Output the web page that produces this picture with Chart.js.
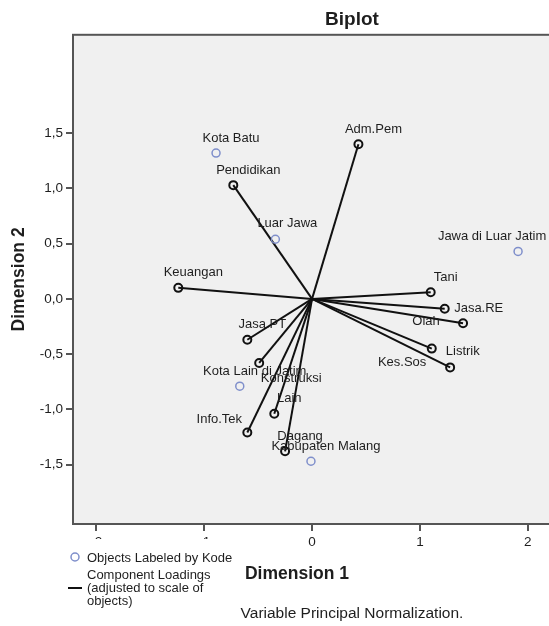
<!DOCTYPE html>
<html>
<head>
<meta charset="utf-8">
<script src="https://cdn.jsdelivr.net/npm/chart.js@4/dist/chart.umd.min.js"></script>
<style>
  html, body { margin: 0; padding: 0; overflow: hidden; background: #fff; }
  canvas { display: block; }
</style>
</head>
<body>
<canvas id="biplot" width="704" height="626"></canvas>
<script>
// objects (cases), labeled by Kode
const objectLabels = ['Kota Batu', 'Luar Jawa', 'Jawa di Luar Jatim', 'Kota Lain di Jatim', 'Kabupaten Malang']
const objectDim1 = [-0.89, -0.34, 1.91, -0.67, -0.01]
const objectDim2 = [1.32, 0.54, 0.43, -0.79, -1.47]

// component loadings (adjusted to scale of objects)
const variableLabels = ['Adm.Pem', 'Pendidikan', 'Keuangan', 'Tani', 'Jasa.RE', 'Olah', 'Listrik',
  'Kes.Sos', 'Jasa.PT', 'Konstruksi', 'Lain', 'Info.Tek', 'Dagang']
const loadingDim1 = [0.43, -0.73, -1.24, 1.10, 1.23, 1.40, 1.11, 1.28, -0.60, -0.49, -0.35, -0.60, -0.25]
const loadingDim2 = [1.40, 1.03, 0.10, 0.06, -0.09, -0.22, -0.45, -0.62, -0.37, -0.58, -1.04, -1.21, -1.38]

const dim1Ticks = [-2, -1, 0, 1, 2]
const dim2Ticks = [-1.5, -1, -0.5, 0, 0.5, 1, 1.5]

const FONT = "'Liberation Sans', Arial, sans-serif"
const TEXT = '#1e1e1e'
const OBJ_BLUE = '#7f8fcb'

// where each label sits relative to its marker (text centre), default is up-right
const labelShift = {
  'Jawa di Luar Jatim': [-26, -15],
  'Luar Jawa': [12, -16],
  'Jasa.RE': [34, 0],
  'Olah': [-37, -2],
  'Listrik': [31, 3],
  'Kes.Sos': [-48, -5],
  'Konstruksi': [32, 15],
  'Info.Tek': [-28, -13]
}

const datasets = [{
  label: 'Objects Labeled by Kode',
  data: objectLabels.map((name, i) => ({ x: objectDim1[i], y: objectDim2[i] })),
  pointRadius: 4,
  pointBorderWidth: 1.5,
  pointBorderColor: OBJ_BLUE,
  pointBackgroundColor: 'rgba(0,0,0,0)',
  showLine: false
}]
variableLabels.forEach((name, i) => {
  datasets.push({
    label: name,
    data: [{ x: 0, y: 0 }, { x: loadingDim1[i], y: loadingDim2[i] }],
    showLine: true,
    borderColor: '#111',
    borderWidth: 2,
    pointRadius: [0, 4],
    pointBorderWidth: 2,
    pointBorderColor: '#111',
    pointBackgroundColor: 'rgba(0,0,0,0)'
  })
})

const biplotDecor = {
  id: 'biplotDecor',
  beforeDraw(chart) {
    const { ctx, chartArea: a } = chart
    ctx.save()
    ctx.fillStyle = '#f0f0f0'
    ctx.fillRect(a.left, a.top, a.right - a.left, a.bottom - a.top)
    ctx.restore()
  },
  afterDatasetsDraw(chart) {
    const ctx = chart.ctx
    ctx.save()
    ctx.font = '13px ' + FONT
    ctx.fillStyle = TEXT
    ctx.textAlign = 'center'
    ctx.textBaseline = 'middle'
    const put = (name, el) => {
      const s = labelShift[name] || [15, -15]
      ctx.fillText(name, el.x + s[0], el.y + s[1])
    }
    chart.getDatasetMeta(0).data.forEach((el, i) => put(objectLabels[i], el))
    variableLabels.forEach((name, i) => put(name, chart.getDatasetMeta(i + 1).data[1]))
    ctx.restore()
  },
  afterDraw(chart) {
    const { ctx, chartArea: a } = chart
    ctx.save()
    ctx.strokeStyle = '#555'
    ctx.lineWidth = 2
    ctx.strokeRect(a.left, a.top, a.right - a.left, a.bottom - a.top)

    // x axis title
    ctx.fillStyle = TEXT
    ctx.font = 'bold 17.5px ' + FONT
    ctx.textAlign = 'center'
    ctx.textBaseline = 'middle'
    ctx.fillText('Dimension 1', 297, 574)

    // legend box (sits over the left tick labels)
    ctx.fillStyle = '#fff'
    ctx.fillRect(60, 539, 180, 66)
    ctx.strokeStyle = OBJ_BLUE
    ctx.lineWidth = 1.5
    ctx.beginPath()
    ctx.arc(75, 557, 4, 0, Math.PI * 2)
    ctx.stroke()
    ctx.strokeStyle = '#111'
    ctx.lineWidth = 2
    ctx.beginPath()
    ctx.moveTo(68, 588)
    ctx.lineTo(82, 588)
    ctx.stroke()
    ctx.fillStyle = TEXT
    ctx.font = '13px ' + FONT
    ctx.textAlign = 'left'
    ctx.fillText(datasets[0].label, 87, 558)
    const loadingText = ['Component Loadings', '(adjusted to scale of', 'objects)']
    loadingText.forEach((t, i) => ctx.fillText(t, 87, 575 + i * 13.4))
    ctx.restore()
  }
}

new Chart(document.getElementById('biplot'), {
  type: 'scatter',
  data: { datasets },
  plugins: [biplotDecor],
  options: {
    responsive: false,
    animation: false,
    devicePixelRatio: 1,
    layout: { padding: 0 },
    plugins: {
      legend: { display: false },
      tooltip: { enabled: false },
      title: {
        display: true,
        text: 'Biplot',
        color: TEXT,
        font: { family: FONT, size: 19, weight: 'bold' },
        padding: { top: 8, bottom: 4 }
      },
      subtitle: {
        display: true,
        position: 'bottom',
        text: 'Variable Principal Normalization.',
        color: TEXT,
        font: { family: FONT, size: 15.5, weight: 'normal' },
        padding: { top: 0, bottom: 3 }
      }
    },
    scales: {
      x: {
        type: 'linear',
        min: -2.216,
        max: 3.578,
        afterBuildTicks: axis => { axis.ticks = dim1Ticks.map(v => ({ value: v })) },
        afterFit: axis => { axis.height = 80.4 },
        ticks: { color: TEXT, font: { family: FONT, size: 13.5 }, padding: 3, callback: v => String(v) },
        grid: { drawOnChartArea: false, drawTicks: true, tickLength: 7, color: '#555', lineWidth: 2 },
        border: { display: false }
      },
      y: {
        type: 'linear',
        min: -2.038,
        max: 2.391,
        afterBuildTicks: axis => { axis.ticks = dim2Ticks.map(v => ({ value: v })) },
        afterFit: axis => { axis.width = 73 },
        ticks: { color: TEXT, font: { family: FONT, size: 13.5 }, padding: 3, callback: v => v.toFixed(1).replace('.', ',') },
        grid: { drawOnChartArea: false, drawTicks: true, tickLength: 7, color: '#555', lineWidth: 2 },
        border: { display: false },
        title: {
          display: true,
          text: 'Dimension 2',
          color: TEXT,
          font: { family: FONT, size: 17.5, weight: 'bold' },
          padding: { top: 9, bottom: 0 }
        }
      }
    }
  }
})
</script>
</body>
</html>
